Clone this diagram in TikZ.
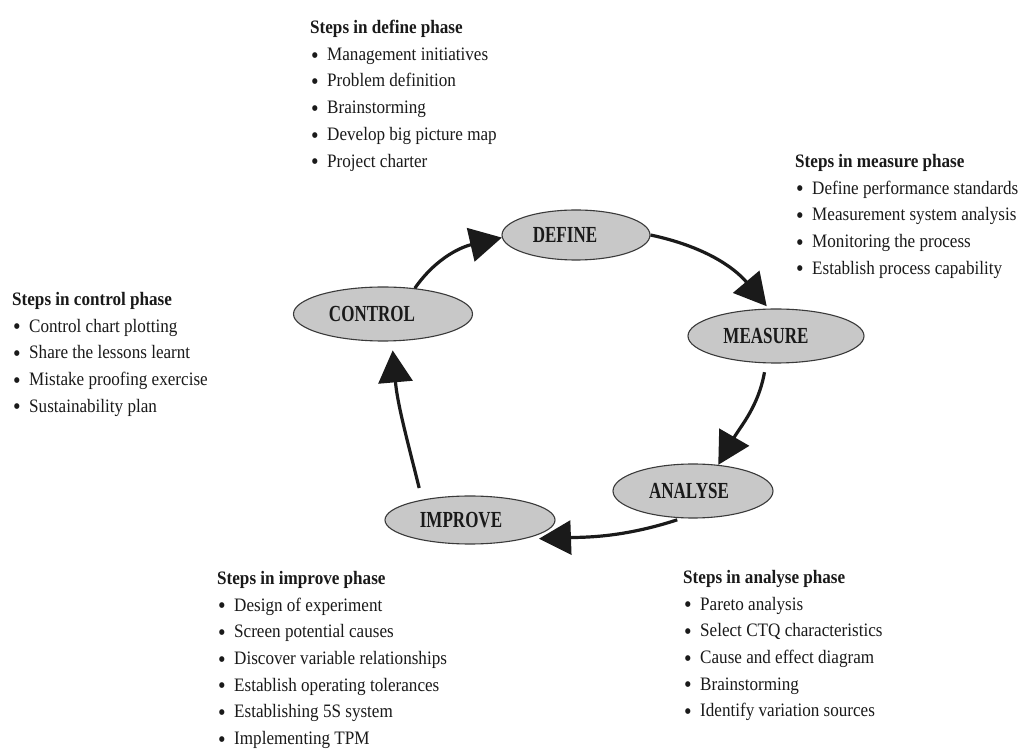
\documentclass[tikz,border=0pt]{standalone}
\usepackage{fontspec}
\setmainfont[FakeStretch=0.9]{Liberation Serif}
\newfontfamily\capsfont[FakeStretch=0.74]{Liberation Serif}
\usetikzlibrary{shapes.geometric,arrows.meta}
\definecolor{phasefill}{HTML}{C8C8C8}
\definecolor{phaseline}{HTML}{3A3A3A}
\definecolor{inkcol}{HTML}{1A1A1A}
% one bulleted entry of a step list
\newcommand{\stepitem}[1]{\hspace*{1pt}\makebox[16pt][l]{\raisebox{-2.8pt}{\fontsize{24}{24}\selectfont\textbullet}}#1}
\tikzset{
  phase/.style={ellipse, draw=phaseline, line width=1.1pt, fill=phasefill,
    inner sep=0pt, text=inkcol,
    font=\capsfont\bfseries\fontsize{23}{23}\selectfont},
  steplist/.style={anchor=north west, align=left, inner sep=0pt, text=inkcol,
    font=\fontsize{19}{26.7}\selectfont},
  cyclearrow/.style={line width=3.2pt, draw=inkcol,
    -{Triangle[length=32pt,width=34pt]}}
}
\begin{document}
\begin{tikzpicture}[x=1pt,y=1pt]
\fill[white] (0,0) rectangle (1024,752);
\useasboundingbox (0,0) rectangle (1024,752);

% the five DMAIC phases (the kern sets each label a little left of centre)
\node[phase, minimum width=148pt, minimum height=50pt] (define)  at (576,517) {DEFINE\kern22pt};
\node[phase, minimum width=176pt, minimum height=54pt] (measure) at (776,416) {MEASURE\kern20pt};
\node[phase, minimum width=160pt, minimum height=54pt] (analyse) at (693,261) {ANALYSE\kern8pt};
\node[phase, minimum width=170pt, minimum height=48pt] (improve) at (470,232) {IMPROVE\kern18pt};
\node[phase, minimum width=179pt, minimum height=54pt] (control) at (383,438) {CONTROL\kern22pt};

% cycle connectors
\draw[cyclearrow] (control.39) to[out=55,in=193] (define.182);
\draw[cyclearrow, shorten >=3pt] (define.east) to[out=-12,in=130] (measure.105);
\draw[cyclearrow, shorten <=9pt] (measure.-110) to[out=-100,in=60] (analyse.46);
\draw[cyclearrow, shorten <=5pt, shorten >=16pt] (analyse.-112) to[out=198,in=2] (improve.-20);
\draw[cyclearrow, shorten <=12pt, shorten >=9pt] (improve.157) to[out=104,in=-85] (control.-72);

% step lists
\node[steplist] (definesteps) at (310,732) {\textbf{Steps in define phase}\\
  \stepitem{Management initiatives}\\
  \stepitem{Problem definition}\\
  \stepitem{Brainstorming}\\
  \stepitem{Develop big picture map}\\
  \stepitem{Project charter}};

\node[steplist] (measuresteps) at (795,598) {\textbf{Steps in measure phase}\\
  \stepitem{Define performance standards}\\
  \stepitem{Measurement system analysis}\\
  \stepitem{Monitoring the process}\\
  \stepitem{Establish process capability}};

\node[steplist] (controlsteps) at (12,460) {\textbf{Steps in control phase}\\
  \stepitem{Control chart plotting}\\
  \stepitem{Share the lessons learnt}\\
  \stepitem{Mistake proofing exercise}\\
  \stepitem{Sustainability plan}};

\node[steplist] (improvesteps) at (217,181) {\textbf{Steps in improve phase}\\
  \stepitem{Design of experiment}\\
  \stepitem{Screen potential causes}\\
  \stepitem{Discover variable relationships}\\
  \stepitem{Establish operating tolerances}\\
  \stepitem{Establishing 5S system}\\
  \stepitem{Implementing TPM}};

\node[steplist] (analysesteps) at (683,182) {\textbf{Steps in analyse phase}\\
  \stepitem{Pareto analysis}\\
  \stepitem{Select CTQ characteristics}\\
  \stepitem{Cause and effect diagram}\\
  \stepitem{Brainstorming}\\
  \stepitem{Identify variation sources}};
\end{tikzpicture}
\end{document}
